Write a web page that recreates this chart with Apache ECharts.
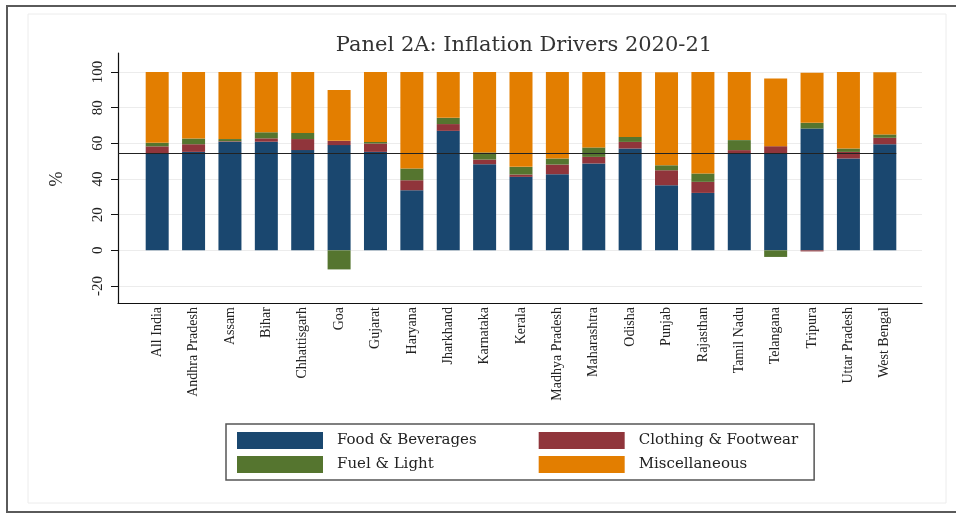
<!DOCTYPE html>
<html>
<head>
<meta charset="utf-8">
<script src="https://cdn.jsdelivr.net/npm/echarts@6/dist/echarts.min.js"></script>
<style>
html,body{margin:0;padding:0;background:#fff;}
#chart{width:956px;height:520px;}
</style>
</head>
<body>
<div id="chart"></div>
<script>
// ---- data ----
const categories = ['All India','Andhra Pradesh','Assam','Bihar','Chhattisgarh','Goa','Gujarat','Haryana','Jharkhand','Karnataka','Kerala','Madhya Pradesh','Maharashtra','Odisha','Punjab','Rajasthan','Tamil Nadu','Telangana','Tripura','Uttar Pradesh','West Bengal'];
const foodBeverages    = [54.3, 55.2, 60.9, 60.9, 56.2, 59.0, 55.2, 33.7, 67.0, 48.3, 41.2, 42.7, 48.7, 57.1, 36.5, 32.2, 54.3, 54.5, 68.3, 51.5, 59.5];
const clothingFootwear = [4.0, 4.3, 0.3, 1.9, 6.2, 2.4, 4.7, 5.6, 3.8, 2.6, 1.3, 5.4, 3.7, 3.7, 8.4, 6.2, 1.9, 3.9, -0.6, 3.7, 3.6];
const fuelLight        = [2.0, 3.2, 1.2, 3.4, 3.4, -10.7, 0.9, 6.6, 3.5, 4.0, 4.3, 3.4, 5.3, 2.8, 2.8, 4.7, 5.6, -3.7, 3.2, 1.9, 1.9];
const miscellaneous    = [39.7, 37.3, 37.6, 33.8, 34.2, 28.5, 39.2, 54.1, 25.7, 45.1, 53.2, 48.5, 42.3, 36.4, 52.2, 56.9, 38.2, 38.0, 28.1, 42.9, 34.8];
const seriesNames = ['Food & Beverages','Clothing & Footwear','Fuel & Light','Miscellaneous'];
const yTicks = {min: -20, max: 100, interval: 20};
const titleText = 'Panel 2A: Inflation Drivers 2020-21';
const yName = '%';
const refLine = foodBeverages[0]; // All India food share

const colors = ['#1a476f','#90353b','#55752f','#e37e00'];
const serif = 'Liberation Serif';
const titleFont = 'DejaVu Serif';

const chart = echarts.init(document.getElementById('chart'), null, {renderer:'canvas'});

const barBase = {
  type: 'bar', stack: 'total', xAxisIndex: 2, yAxisIndex: 2,
  barWidth: 23, animation: false
};

const legendText = {
  fontFamily: titleFont, fontSize: 15, color: '#222', padding: [0,0,0,9]
};

const option = {
  backgroundColor: '#fff',
  animation: false,
  color: colors,
  title: {
    text: titleText,
    left: 519, top: 30, textAlign: 'center',
    textStyle: {fontFamily: titleFont, fontSize: 21, fontWeight: 'normal', color: '#333'}
  },
  graphic: [
    {type:'rect', shape:{x:28, y:14, width:918, height:489}, style:{fill:'none', stroke:'#ececec', lineWidth:1}, silent:true, z:-10},
    {type:'polyline', shape:{points:[[957,6],[7,6],[7,512],[957,512]]}, style:{fill:'none', stroke:'#5a5a5a', lineWidth:2}, silent:true, z:-10}
  ],
  legend: [
    {
      data: [seriesNames[0], seriesNames[1]],
      left: 226, top: 424, orient: 'horizontal',
      padding: [8, 16, 31, 11],
      borderColor: '#555', borderWidth: 1.5,
      itemWidth: 86, itemHeight: 17, itemGap: 62, icon: 'rect',
      selectedMode: false,
      textStyle: legendText
    },
    {
      data: [seriesNames[2], seriesNames[3]],
      left: 237, top: 456, orient: 'horizontal',
      padding: 0,
      itemWidth: 86, itemHeight: 17, itemGap: 105, icon: 'rect',
      selectedMode: false,
      textStyle: legendText
    }
  ],
  grid: [
    {left: 118, right: 34, top: 53, bottom: 217},   // axis frame
    {left: 118, right: 34, top: 72, bottom: 234},   // y scale
    {left: 139, right: 53, top: 72, bottom: 234}    // bars
  ],
  xAxis: [
    {gridIndex: 0, type: 'category', data: categories, axisLine: {show: true, lineStyle: {color: '#111', width: 1.2}},
      axisTick: {show: false}, axisLabel: {show: false}, splitLine: {show: false}},
    {gridIndex: 1, type: 'value', min: 0, max: 1, show: false},
    {gridIndex: 2, type: 'category', data: categories,
      axisLine: {show: false}, axisTick: {show: false}, splitLine: {show: false},
      axisLabel: {rotate: 90, margin: 21, interval: 0, fontFamily: serif, fontSize: 14, color: '#222'}}
  ],
  yAxis: [
    {gridIndex: 0, type: 'value', min: 0, max: 1, axisLine: {show: true, lineStyle: {color: '#111', width: 1.2}},
      axisTick: {show: false}, axisLabel: {show: false}, splitLine: {show: false}},
    {gridIndex: 1, type: 'value', min: yTicks.min, max: yTicks.max, interval: yTicks.interval,
      axisLine: {show: false},
      axisTick: {show: true, length: 7, lineStyle: {color: '#111', width: 1}},
      axisLabel: {rotate: 90, margin: 12, fontFamily: serif, fontSize: 15, color: '#222'},
      splitLine: {show: true, lineStyle: {color: '#ececec', width: 1}},
      name: yName, nameLocation: 'middle', nameRotate: 90, nameGap: 52,
      nameTextStyle: {fontFamily: serif, fontSize: 18, color: '#222'}},
    {gridIndex: 2, type: 'value', min: yTicks.min, max: yTicks.max, interval: yTicks.interval, show: false}
  ],
  series: [
    Object.assign({}, barBase, {name: seriesNames[0], data: foodBeverages, itemStyle: {color: colors[0]}}),
    Object.assign({}, barBase, {name: seriesNames[1], data: clothingFootwear, itemStyle: {color: colors[1]}}),
    Object.assign({}, barBase, {name: seriesNames[2], data: fuelLight, itemStyle: {color: colors[2]}}),
    Object.assign({}, barBase, {name: seriesNames[3], data: miscellaneous, itemStyle: {color: colors[3]}}),
    {
      type: 'line', xAxisIndex: 1, yAxisIndex: 1, data: [], silent: true, animation: false,
      markLine: {
        symbol: 'none', silent: true, animation: false, label: {show: false},
        lineStyle: {color: '#222', width: 1.2, type: 'solid'},
        data: [[{coord: [0, refLine]}, {coord: [0.968, refLine]}]]
      },
      z: 10
    }
  ]
};
chart.setOption(option);
</script>
</body>
</html>
